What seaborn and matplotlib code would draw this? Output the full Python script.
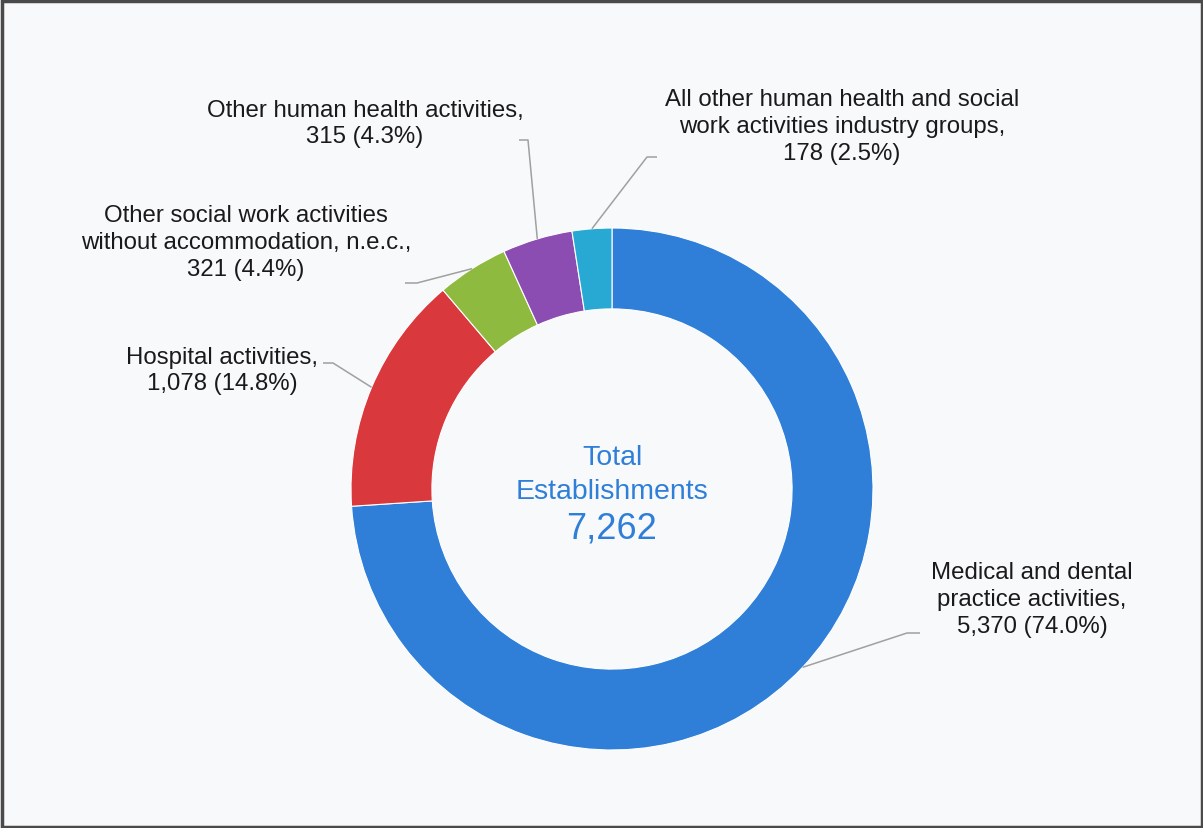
import numpy as np
import matplotlib
matplotlib.use("Agg")
import matplotlib.pyplot as plt
import seaborn as sns

# ---- data ----
categories = [
    "Medical and dental\npractice activities,",
    "Hospital activities,",
    "Other social work activities\nwithout accommodation, n.e.c.,",
    "Other human health activities,",
    "All other human health and social\nwork activities industry groups,",
]
values = [5370, 1078, 321, 315, 178]
percents = ["74.0%", "14.8%", "4.4%", "4.3%", "2.5%"]
colors = ["#2f7fd8", "#d9383c", "#8dba3f", "#8c4db3", "#27a9d4"]
total_label = "7,262"

sns.set_theme(style="white")
plt.rcParams['font.family'] = ['Liberation Sans', 'DejaVu Sans']

W, H = 1203, 829
fig = plt.figure(figsize=(W / 100, H / 100), dpi=100)
fig.patch.set_facecolor("#f8f9fb")
ax = fig.add_axes([0, 0, 1, 1])
ax.set_facecolor("#f8f9fb")

cx, cy = 612, H - 490
R = 261
width = 0.31

wedges, _ = ax.pie(values, colors=colors, startangle=90, counterclock=False,
                   center=(cx, cy), radius=R,
                   wedgeprops=dict(width=R * width, edgecolor="white", linewidth=0.8),
                   frame=True)
ax.set_xlim(0, W)
ax.set_ylim(0, H)
ax.set_aspect("equal")
ax.axis("off")

# label text positions (pixel coords from top) and leader elbow points
label_pos = [(1032, 600), (222, 371), (246, 243), (365, 124), (842, 127)]
elbows = [
    [(907, 634), (920, 634)],
    [(333, 364), (323, 364)],
    [(417, 284), (405, 284)],
    [(528, 141), (519, 141)],
    [(647, 158), (657, 158)],
]

for w, cat, v, p, (tx, ty), elb in zip(wedges, categories, values, percents, label_pos, elbows):
    ang = np.deg2rad((w.theta1 + w.theta2) / 2)
    x0 = cx + R * np.cos(ang)
    y0 = cy + R * np.sin(ang)
    xs = [x0] + [e[0] for e in elb]
    ys = [y0] + [H - e[1] for e in elb]
    ax.plot(xs, ys, color="#a0a0a0", lw=1.1, solid_capstyle="butt")
    ax.text(tx, H - ty, f"{cat}\n{v:,} ({p})", ha="center", va="center",
            fontsize=17.3, color="#1a1a1a", linespacing=1.28)

ax.text(cx, H - 458, "Total", ha="center", va="center",
        fontsize=20.5, color="#2f7fd8")
ax.text(cx, H - 492, "Establishments", ha="center", va="center",
        fontsize=20.5, color="#2f7fd8")
ax.text(cx, H - 529, total_label, ha="center", va="center",
        fontsize=26, color="#2f7fd8")

# frame border
ax.add_patch(plt.Rectangle((1.5, 1.5), W - 3, H - 3, fill=False,
                           edgecolor="#4a4a4a", lw=2.5))

fig.savefig("out.png", dpi=100, facecolor=fig.get_facecolor())
